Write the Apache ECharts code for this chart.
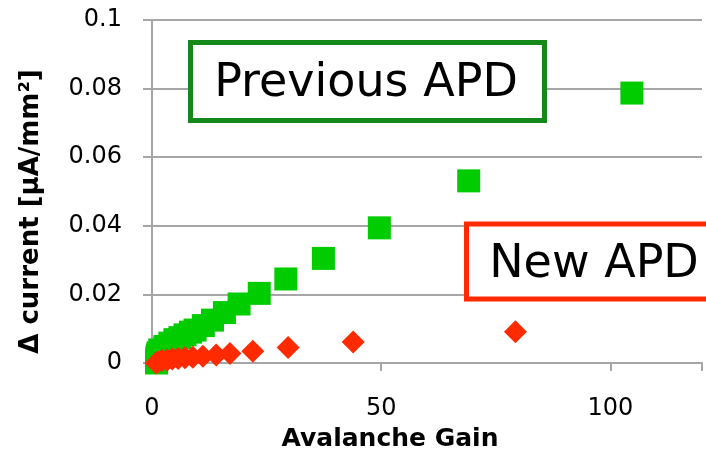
<!DOCTYPE html>
<html>
<head>
<meta charset="utf-8">
<script src="https://cdn.jsdelivr.net/npm/echarts@6/dist/echarts.min.js"></script>
<style>
html,body{margin:0;padding:0;background:#fff;overflow:hidden;}
#chart{width:706px;height:452px;}
</style>
</head>
<body>
<div id="chart"></div>
<script>
// Data
const previousGain = [1.0, 1.0, 1.05, 1.1, 1.2, 1.35, 1.7, 2.8, 3.9, 5.0, 6.1, 7.2, 8.4, 9.4, 11.2, 13.2, 15.8, 19.0, 23.4, 29.2, 37.4, 49.6, 69.1, 104.7];
const previousCurrent = [0.0, 0.0006, 0.0012, 0.0018, 0.0024, 0.003, 0.0038, 0.0048, 0.0058, 0.0068, 0.0074, 0.0082, 0.0090, 0.0096, 0.0109, 0.0125, 0.0147, 0.0172, 0.0203, 0.0245, 0.0305, 0.0394, 0.0531, 0.0787];
const newGain = [0.9, 1.3, 2.2, 3.3, 4.4, 5.7, 7.2, 8.9, 11.1, 14.0, 17.0, 22.0, 29.7, 43.9, 79.3];
const newCurrent = [0.0, 0.0004, 0.0007, 0.0009, 0.0012, 0.0013, 0.0015, 0.0017, 0.0020, 0.0023, 0.0028, 0.0034, 0.0045, 0.0061, 0.0091];
const xTicks = [0, 50, 100];
const yTicks = [0, 0.02, 0.04, 0.06, 0.08, 0.1];
const xTitle = 'Avalanche Gain';
const yTitle = 'Δ current [μA/mm²]';
const boxPrev = 'Previous APD';
const boxNew = 'New APD';

const zip = (a, b) => a.map((v, i) => [v, b[i]]);
const FONT = '"DejaVu Sans", Verdana, sans-serif';
const grey = '#a6a6a6';

const chart = echarts.init(document.getElementById('chart'), null, {renderer: 'canvas', width: 706, height: 452});
chart.setOption({
  animation: false,
  backgroundColor: '#fff',
  grid: {left: 152, right: 4, top: 20, bottom: 89, containLabel: false, outerBoundsMode: 'none'},
  xAxis: {
    type: 'value', min: 0, max: 120, interval: 50,
    name: xTitle, nameLocation: 'middle', nameGap: 64, nameMoveOverlap: false,
    nameTextStyle: {fontFamily: FONT, fontSize: 25, fontWeight: 'bold', color: '#000', padding: [0, 74, 0, 0]},
    axisLine: {show: true, lineStyle: {color: grey, width: 2}},
    axisTick: {show: true, length: 8, lineStyle: {color: grey, width: 2}},
    axisLabel: {fontFamily: FONT, fontSize: 24, color: '#000', margin: 34,
      formatter: v => xTicks.indexOf(v) >= 0 ? String(v) : ''},
    splitLine: {show: false}
  },
  yAxis: {
    type: 'value', min: 0, max: 0.1, interval: 0.02,
    name: yTitle, nameLocation: 'middle', nameGap: 108, nameRotate: 90, nameMoveOverlap: false,
    nameTextStyle: {fontFamily: FONT, fontSize: 26, fontWeight: 'bold', color: '#000', padding: [0, 40, 0, 0]},
    axisLine: {show: true, lineStyle: {color: grey, width: 2}},
    axisTick: {show: true, length: 9, lineStyle: {color: grey, width: 2}},
    axisLabel: {fontFamily: FONT, fontSize: 24, color: '#000', margin: 30,
      formatter: v => { const t = yTicks.find(k => Math.abs(k - v) < 1e-9); return t === undefined ? '' : String(t); }},
    splitLine: {show: true, lineStyle: {color: grey, width: 2}}
  },
  series: [
    {type: 'scatter', name: boxPrev, data: zip(previousGain, previousCurrent), symbol: 'rect', symbolSize: 23,
      itemStyle: {color: '#00cc00', opacity: 1}, z: 2},
    {type: 'scatter', name: boxNew, data: zip(newGain, newCurrent), symbol: 'diamond', symbolSize: 23,
      itemStyle: {color: '#ff2a00', opacity: 1}, z: 3}
  ],
  graphic: [
    {type: 'rect', shape: {x: 190.5, y: 42.5, width: 354, height: 78},
      style: {fill: '#fff', stroke: '#14891a', lineWidth: 5}, z: 10},
    {type: 'text', x: 366, y: 84, style: {text: boxPrev, font: '46px ' + FONT, fill: '#000', align: 'center', verticalAlign: 'middle'}, z: 11},
    {type: 'rect', shape: {x: 466.5, y: 224, width: 260, height: 75},
      style: {fill: '#fff', stroke: '#ff2a00', lineWidth: 5}, z: 10},
    {type: 'text', x: 594, y: 265, style: {text: boxNew, font: '46px ' + FONT, fill: '#000', align: 'center', verticalAlign: 'middle'}, z: 11}
  ]
});
</script>
</body>
</html>
